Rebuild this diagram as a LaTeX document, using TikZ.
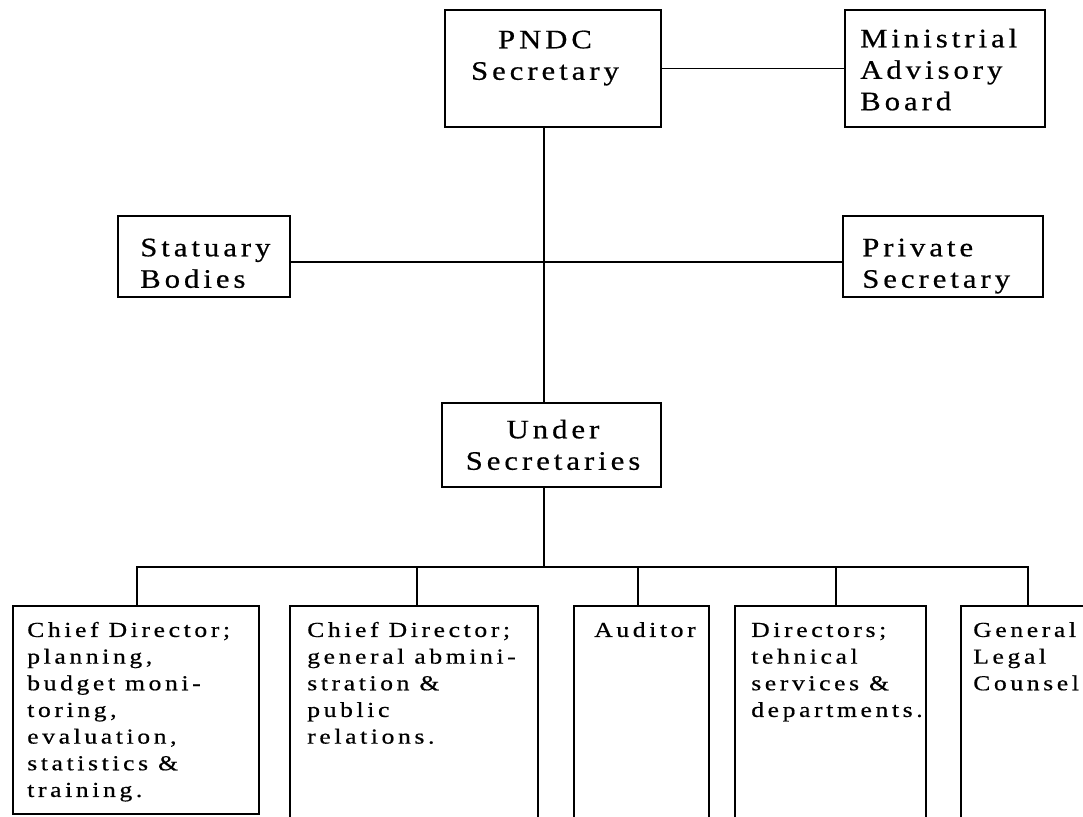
\documentclass[tikz,border=0pt]{standalone}
\usepackage{fontspec}
\usetikzlibrary{fit}
\newfontfamily\orgfonta[LetterSpace=15,FakeStretch=1.15,FakeBold=0.6]{Liberation Serif}
\newfontfamily\orgfontb[LetterSpace=17,FakeStretch=1.2,FakeBold=0.6]{Liberation Serif}
\begin{document}
\begin{tikzpicture}[x=0.75pt,y=-0.75pt,
  box/.style={draw=black, line width=1.4pt, rectangle, inner sep=0pt},
  link/.style={draw=black, line width=1.4pt, line join=miter},
  toptext/.style={font=\orgfonta\fontsize{20}{23.6}\selectfont, inner sep=0pt, anchor=north west, align=left},
  bottext/.style={font=\orgfontb\fontsize{16}{20}\selectfont, inner sep=0pt, anchor=north west, align=left}]
\useasboundingbox[fill=white] (0,0) rectangle (1083,817);
% top boxes
\node[box, fit={(445,10) (661,127)}] (pndc) {};
\node[box, fit={(845,10) (1045,127)}] (mab) {};
\node[box, fit={(118,216) (290,297)}] (stat) {};
\node[box, fit={(843,216) (1043,297)}] (priv) {};
\node[box, fit={(442,403) (661,487)}] (under) {};
% bottom boxes
\node[box, fit={(13,606) (259,814)}] (c1) {};
\node[box, fit={(290,606) (538,840)}] (c2) {};
\node[box, fit={(574,606) (709,840)}] (c3) {};
\node[box, fit={(735,606) (926,840)}] (c4) {};
\node[box, fit={(961,606) (1110,840)}] (c5) {};
% texts
\node[toptext, anchor=north, align=center] (tpndc) at (545,26) {\strut PNDC\\Secretary};
\node[toptext] (tmab) at (860,25) {\strut Ministrial\\Advisory\\Board};
\node[toptext] (tstat) at (140,234) {\strut Statuary\\Bodies};
\node[toptext] (tpriv) at (862,234) {\strut Private\\Secretary};
\node[toptext, anchor=north, align=center] (tunder) at (553,416) {\strut Under\\Secretaries};
\node[bottext] (tc1) at (27,618) {\strut Chief Director;\\planning,\\budget moni-\\toring,\\evaluation,\\statistics \&\\training.};
\node[bottext] (tc2) at (307,618) {\strut Chief Director;\\general abmini-\\stration \&\\public\\relations.};
\node[bottext] (tc3) at (594,618) {\strut Auditor};
\node[bottext] (tc4) at (751,618) {\strut Directors;\\tehnical\\services \&\\departments.};
\node[bottext] (tc5) at (973,618) {\strut General\\Legal\\Counsel};
% connectors
\coordinate (spine) at (544,0);
\coordinate (row) at (0,262);
\coordinate (b1) at (137,567);
\coordinate (b2) at (417,567);
\coordinate (b3) at (638,567);
\coordinate (b4) at (836,567);
\coordinate (b5) at (1028,567);
\draw[link] (pndc) -- (mab);
\draw[link] (pndc.south -| spine) -- (under.north -| spine);
\draw[link] (stat.east |- row) -- (priv.west |- row);
\draw[link] (under.south -| spine) -- (spine |- b1);
\draw[link] (c1.north -| b1) -- (b1) -- (b5) -- (c5.north -| b5);
\draw[link] (b2) -- (c2.north -| b2);
\draw[link] (b3) -- (c3.north -| b3);
\draw[link] (b4) -- (c4.north -| b4);
\end{tikzpicture}
\end{document}
